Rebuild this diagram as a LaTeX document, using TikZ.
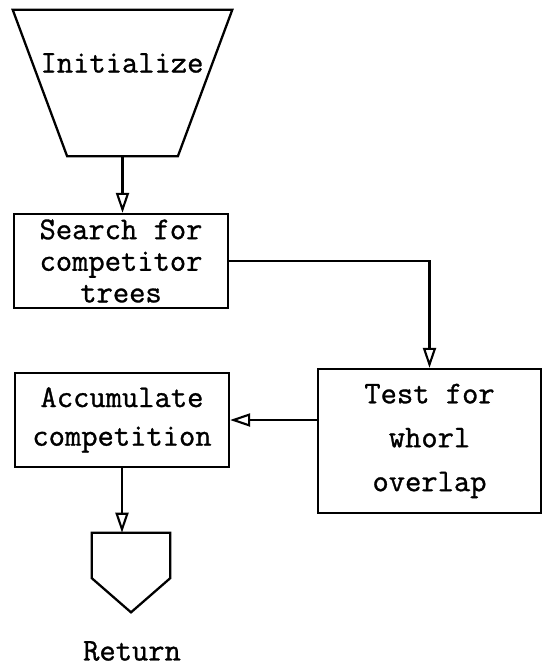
\documentclass[tikz,border=0pt]{standalone}
\usepackage{fontspec}
\setmonofont{Latin Modern Mono}[FakeBold=1]
\usetikzlibrary{arrows.meta,calc}

\begin{document}
\begin{tikzpicture}[
   x=0.02cm,y=-0.02cm,
   font=\ttfamily\fontsize{18}{18}\selectfont,
   box/.style={draw,line width=1.3pt,align=center,inner sep=0pt},
   plain/.style={inner sep=0pt},
   edge/.style={line width=1.3pt,line join=miter},
   to/.style={-{Triangle[open,length=4mm,width=2.6mm,line width=1.2pt]},line width=1.2pt}]
\useasboundingbox (0,0) rectangle (544,665);
% start
\node[plain,minimum width=4.38cm,minimum height=2.92cm] (init) at (122.5,83) {};
\draw[edge] (init.north west) -- (init.north east) -- ([xshift=-1.09cm]init.south east)
   -- ([xshift=1.09cm]init.south west) -- cycle;
\node[plain] (inittext) at (122,63) {Initialize};
% boxes
\node[box,minimum width=4.28cm,minimum height=1.88cm] (search) at (121,261)
   {Search for\\competitor\\trees};
\node[box,minimum width=4.46cm,minimum height=2.88cm,
   font=\ttfamily\fontsize{18}{25}\selectfont] (test) at (429.5,441)
   {Test for\\whorl\\overlap};
\node[box,minimum width=4.28cm,minimum height=1.88cm,
   font=\ttfamily\fontsize{18}{22}\selectfont] (acc) at (122,420)
   {Accumulate\\competition};
% exit
\node[plain,minimum width=1.56cm,minimum height=1.58cm] (ret) at (131,572.5) {};
\draw[edge] (ret.north west) -- (ret.north east)
   -- ($(ret.north east)!0.57!(ret.south east)$) -- (ret.south)
   -- ($(ret.north west)!0.57!(ret.south west)$) -- cycle;
\node[plain] (rettext) at (132,651) {Return};
% flow
\draw[to] (init.south) -- (init.south |- search.north);
\draw[to] (search.east) -| (test.north);
\draw[to] (test.west |- acc.east) -- (acc.east);
\draw[to] (acc.south) -- (acc.south |- ret.north);
\end{tikzpicture}
\end{document}
